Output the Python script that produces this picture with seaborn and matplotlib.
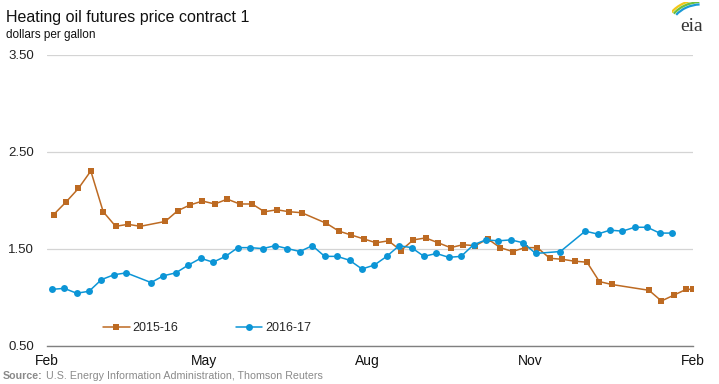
import pandas as pd
import numpy as np
import matplotlib.pyplot as plt
import matplotlib.dates as mdates
from matplotlib.patches import Arc
import seaborn as sns

# -----------------------------
# Data: heating oil futures, contract 1 ($/gal), weekly
# -----------------------------
dates_1516 = [
    "2015-02-05", "2015-02-12", "2015-02-19", "2015-02-26", "2015-03-05", "2015-03-12",
    "2015-03-19", "2015-03-26", "2015-04-09", "2015-04-16", "2015-04-23", "2015-04-30",
    "2015-05-07", "2015-05-14", "2015-05-21", "2015-05-28", "2015-06-04", "2015-06-11",
    "2015-06-18", "2015-06-25", "2015-07-09", "2015-07-16", "2015-07-23", "2015-07-30",
    "2015-08-06", "2015-08-13", "2015-08-20", "2015-08-27", "2015-09-03", "2015-09-10",
    "2015-09-17", "2015-09-24", "2015-10-01", "2015-10-08", "2015-10-15", "2015-10-22",
    "2015-10-29", "2015-11-05", "2015-11-12", "2015-11-19", "2015-11-26", "2015-12-03",
    "2015-12-10", "2015-12-17", "2016-01-07", "2016-01-14", "2016-01-21", "2016-01-28",
    "2016-02-01",
]
price_1516 = [
    1.85, 1.98, 2.12, 2.30, 1.88, 1.73, 1.75, 1.73, 1.78, 1.89, 1.95, 1.99,
    1.96, 2.01, 1.96, 1.96, 1.88, 1.90, 1.88, 1.87, 1.76, 1.68, 1.64, 1.60,
    1.56, 1.58, 1.48, 1.59, 1.61, 1.56, 1.51, 1.54, 1.53, 1.60, 1.51, 1.47,
    1.51, 1.51, 1.40, 1.39, 1.37, 1.36, 1.16, 1.13, 1.07, 0.96, 1.02, 1.08,
    1.08,
]

dates_1617 = [
    "2016-02-04", "2016-02-11", "2016-02-18", "2016-02-25", "2016-03-03", "2016-03-10",
    "2016-03-17", "2016-03-31", "2016-04-07", "2016-04-14", "2016-04-21", "2016-04-28",
    "2016-05-05", "2016-05-12", "2016-05-19", "2016-05-26", "2016-06-02", "2016-06-09",
    "2016-06-16", "2016-06-23", "2016-06-30", "2016-07-07", "2016-07-14", "2016-07-21",
    "2016-07-28", "2016-08-04", "2016-08-11", "2016-08-18", "2016-08-25", "2016-09-01",
    "2016-09-08", "2016-09-15", "2016-09-22", "2016-09-29", "2016-10-06", "2016-10-13",
    "2016-10-20", "2016-10-27", "2016-11-03", "2016-11-17", "2016-12-01", "2016-12-08",
    "2016-12-15", "2016-12-22", "2016-12-29", "2017-01-05", "2017-01-12", "2017-01-19",
]
price_1617 = [
    1.08, 1.09, 1.04, 1.06, 1.18, 1.23, 1.25, 1.15, 1.22, 1.25, 1.33, 1.40,
    1.36, 1.42, 1.51, 1.51, 1.50, 1.53, 1.50, 1.47, 1.53, 1.42, 1.42, 1.38,
    1.29, 1.33, 1.42, 1.53, 1.51, 1.42, 1.45, 1.41, 1.42, 1.54, 1.59, 1.58,
    1.59, 1.56, 1.45, 1.47, 1.68, 1.65, 1.69, 1.68, 1.72, 1.72, 1.66, 1.66,
]

season_labels = ["2015-16", "2016-17"]
season_starts = ["2015-02-01", "2016-02-01"]
month_ticks = ["2015-02-01", "2015-05-01", "2015-08-01", "2015-11-01", "2016-02-01"]
month_labels = ["Feb", "May", "Aug", "Nov", "Feb"]
y_ticks = [0.5, 1.5, 2.5, 3.5]

colors = ["#bd6a22", "#0c95d6"]
markers = ["s", "o"]

# -----------------------------
# Put both seasons on one Feb-Feb axis
# -----------------------------
base = pd.Timestamp(season_starts[0])
frames = []
for lab, start, d, p in zip(season_labels, season_starts,
                            [dates_1516, dates_1617], [price_1516, price_1617]):
    f = pd.DataFrame({"date": pd.to_datetime(d), "price": p})
    f["x"] = base + (f["date"] - pd.Timestamp(start))
    f["season"] = lab
    frames.append(f)

# -----------------------------
# Plot
# -----------------------------
sns.set_theme(style="white")
plt.rcParams["font.family"] = ["Liberation Sans", "DejaVu Sans"]

fig = plt.figure(figsize=(7.19, 3.84), dpi=100)
ax = fig.add_axes([46.5 / 719, 38.4 / 384, 646.8 / 719, 291.0 / 384])

for f, c, m, lab in zip(frames, colors, markers, season_labels):
    sns.lineplot(
        data=f, x="x", y="price", ax=ax,
        color=c, marker=m, markersize=5, markeredgewidth=0,
        linewidth=1.1, label=lab
    )

ax.set_xlim(mdates.date2num(pd.Timestamp(month_ticks[0])),
            mdates.date2num(pd.Timestamp(month_ticks[-1])))
ax.set_ylim(y_ticks[0], y_ticks[-1])
ax.set_xticks([mdates.date2num(pd.Timestamp(t)) for t in month_ticks])
ax.set_xticklabels(month_labels, fontsize=10, color="#111111")
ax.set_yticks(y_ticks)
ax.set_yticklabels([f"{v:.2f}" for v in y_ticks], fontsize=9.5, color="#222222")
ax.set_xlabel("")
ax.set_ylabel("")

ax.grid(axis="y", color="#d4d4d4", linewidth=0.9)
ax.grid(axis="x", visible=False)
for s in ["top", "right", "left"]:
    ax.spines[s].set_visible(False)
ax.spines["bottom"].set_color("#808080")
ax.spines["bottom"].set_linewidth(1.0)
ax.tick_params(axis="x", length=4, width=1, color="#808080", pad=2)
ax.tick_params(axis="y", length=0, pad=9)

handles, labels = ax.get_legend_handles_labels()
ax.get_legend().remove()
fig.legend(
    handles, labels, loc="center left", bbox_to_anchor=(0.128, 0.146),
    ncol=2, frameon=False, fontsize=9, handlelength=2.1,
    handletextpad=0.25, columnspacing=4.6
)

# titles
fig.text(0.009, 0.955, "Heating oil futures price contract 1",
         fontsize=11.5, color="#111111", va="center", ha="left")
fig.text(0.009, 0.908, "dollars per gallon",
         fontsize=8.5, color="#111111", va="center", ha="left")

# source line
src = fig.text(0.004, 0.012, "Source:", fontsize=7.7, color="#8a8a8a",
               fontweight="bold", va="baseline", ha="left")
ax.annotate("U.S. Energy Information Administration, Thomson Reuters",
            xy=(1, 0), xycoords=src, xytext=(2.5, 0), textcoords="offset points",
            fontsize=7.7, color="#8a8a8a", va="bottom", ha="left",
            annotation_clip=False)

# eia logo
logo = fig.add_axes([0.935, 0.905, 0.055, 0.09])
logo.set_xlim(0, 1)
logo.set_ylim(0, 1)
logo.axis("off")
logo.text(0.5, 0.3, "eia", fontsize=14, family="Liberation Serif",
          color="#333333", ha="center", va="center")
for r, col, lw in [(0.62, "#f2c718", 1.6), (0.55, "#6cbf3c", 1.6), (0.48, "#1a9ad6", 1.6)]:
    logo.add_patch(Arc((0.75, 0.25), 2 * r + 0.6, 2 * r + 0.4, theta1=95, theta2=150,
                       color=col, linewidth=lw))

fig.savefig("out.png", dpi=100)
